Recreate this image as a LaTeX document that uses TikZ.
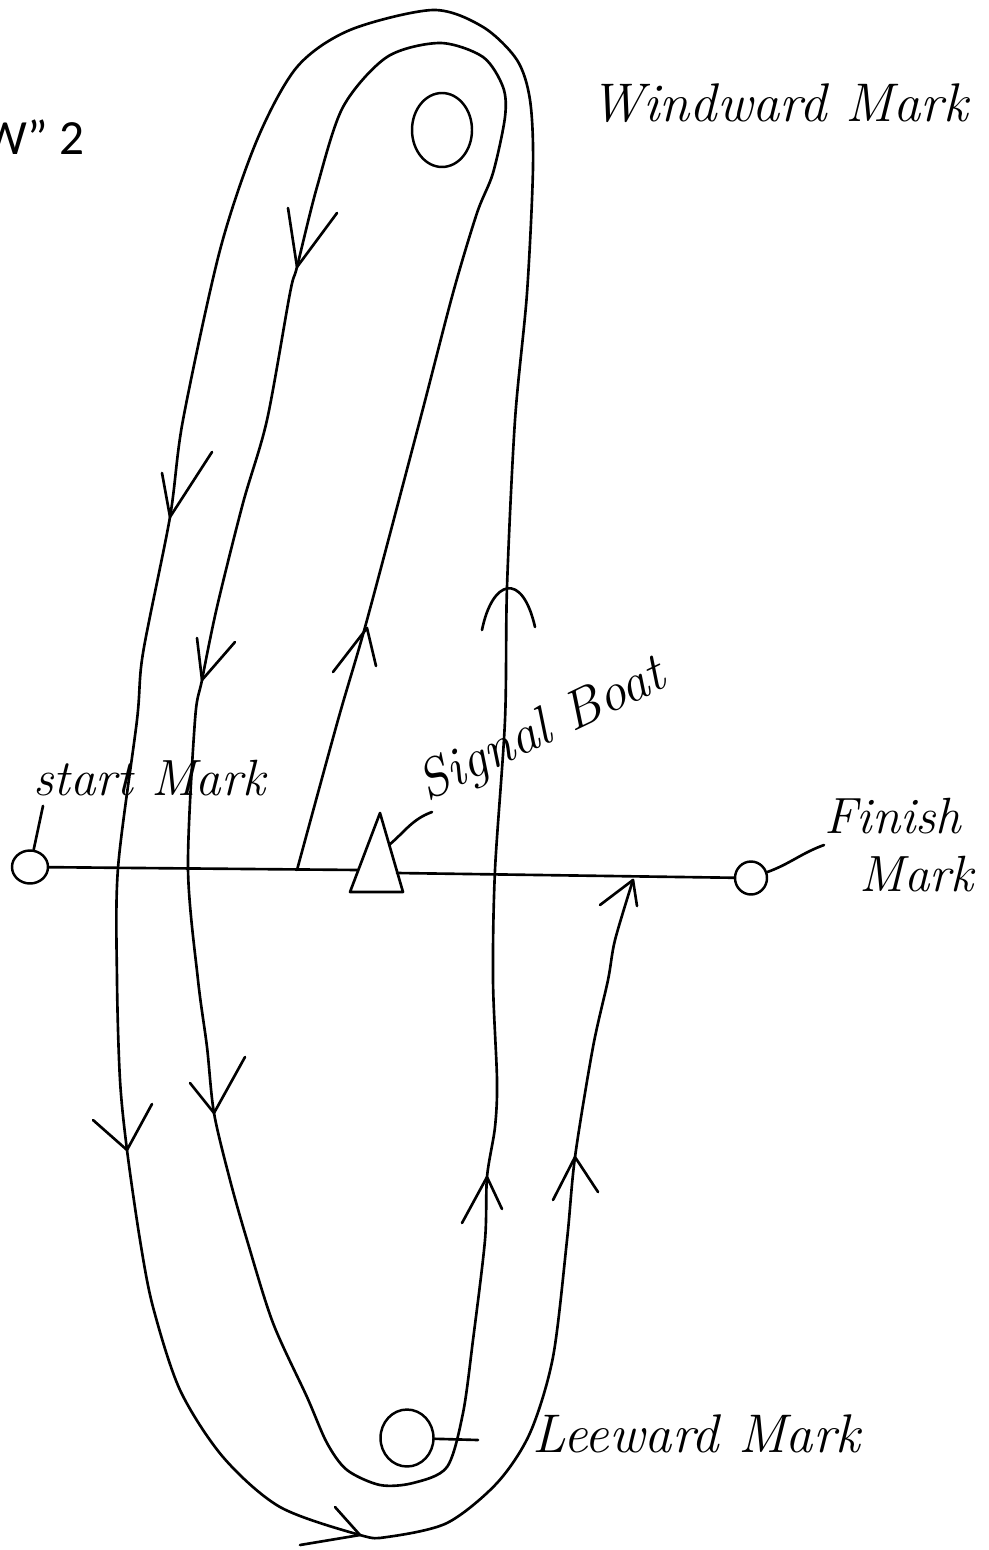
\documentclass[tikz,border=0pt]{standalone}
\usepackage{fontspec}
\usepackage{tikz}
\usetikzlibrary{shapes.geometric}
\newfontfamily\carlito{Carlito}

\begin{document}
\begin{tikzpicture}[x=0.02cm, y=-0.02cm,
  course/.style={line width=1.5pt, line join=round, line cap=round},
  buoy/.style={draw, ellipse, line width=1.4pt, inner sep=0pt},
  hand/.style={font=\fontsize{29}{33}\selectfont\itshape, inner sep=0pt}]
\clip (0,0) rectangle (988,1550);
%title
\node[anchor=base west, inner sep=0pt, font=\fontsize{28}{32}\selectfont\carlito] (title) at (-17,155) {W” 2};
%marks
\node[buoy, minimum width=1.2cm, minimum height=1.48cm] (windward) at (442,130) {};
\node[buoy, minimum width=1.06cm, minimum height=1.14cm] (leeward) at (407,1438) {};
\node[buoy, minimum width=0.72cm, minimum height=0.66cm] (startmark) at (30,867) {};
\node[buoy, minimum width=0.64cm, minimum height=0.66cm] (finishmark) at (751,878) {};
%signal boat
\coordinate (boattop) at (380,813);
\draw[course] (boattop) -- (403,892) -- (350,892) -- cycle;
\coordinate (boatL) at (358,870);
\coordinate (boatR) at (397,873);
\coordinate (boatleader) at (389,845);
%labels
\node[hand, anchor=base west, font=\fontsize{31}{35}\selectfont\itshape] (windlbl) at (590,122) {Windward Mark};
\node[hand, anchor=base west] (startlbl) at (33,795) {start Mark};
\node[hand, anchor=south west, rotate=25.6, font=\fontsize{31}{35}\selectfont\itshape] (boatlbl) at (432,812) {Signal Boat};
\node[hand, anchor=west, align=left] (finishlbl) at (824,845) {Finish\\\hspace*{0.7cm}Mark};
\node[hand, anchor=base west, font=\fontsize{31}{35}\selectfont\itshape] (leewardlbl) at (532,1452) {Leeward Mark};
\coordinate (leewardtick) at (478,1440);
%leaders
\draw[course] (startmark) -- ([shift={(10,10)}]startlbl.south west);
\draw[course] (boatleader) to[out=40,in=200] (boatlbl.south west);
\draw[course] (leeward) -- (leewardtick);
\draw[course] (finishmark) to[out=20,in=200] (finishlbl.west);
%start line
\draw[course] (startmark) -- (boatL);
\draw[course] (boatR) -- (finishmark);
%course
\draw[course] plot[smooth, tension=0.5] coordinates {
  (297,870) (338,720) (367,620) (420,420) (453,293) (477,213) (493,173)
  (505,117) (503,87) (483,57) (440,43) (387,57) (343,107) (317,187)
  (297,267) (290,293) (267,420) (243,503) (217,607) (202,680) (195,720)
  (188,868) (198,980) (207,1047) (214,1113) (230,1180) (247,1240)
  (273,1323) (307,1397) (327,1443) (347,1470) (380,1485) (413,1483)
  (447,1467) (463,1413) (473,1340) (485,1240) (487,1177) (495,1127)
  (497,1080) (493,980) (495,870) (505,720) (507,587) (515,420) (527,293)
  (533,167) (530,100) (517,60) (483,27) (433,10) (350,30) (297,67)
  (257,140) (220,250) (183,420) (170,517) (143,653) (137,720) (118,868)
  (117,980) (120,1080) (127,1150) (140,1240) (153,1307) (180,1390)
  (223,1457) (280,1507) (360,1535) (387,1537) (447,1523) (497,1483)
  (530,1433) (553,1357) (567,1240) (575,1157) (593,1047) (608,980)
  (615,940) (633,880)};
%arrows
\draw[course] (288,208) -- (297,267) -- (337,213);
\draw[course] (162,473) -- (170,517) -- (212,452);
\draw[course] (197,638) -- (202,680) -- (235,642);
\draw[course] (333,672) -- (367,628) -- (376,666);
\draw[course] (482,630) .. controls (492,580) and (522,570) .. (535,627);
\draw[course] (93,1120) -- (127,1150) -- (152,1104);
\draw[course] (190,1083) -- (214,1113) -- (245,1057);
\draw[course] (462,1223) -- (487,1177) -- (502,1209);
\draw[course] (553,1200) -- (575,1157) -- (598,1192);
\draw[course] (335,1507) -- (360,1535) -- (300,1545);
\draw[course] (600,905) -- (633,880) -- (637,906);
\end{tikzpicture}
\end{document}
